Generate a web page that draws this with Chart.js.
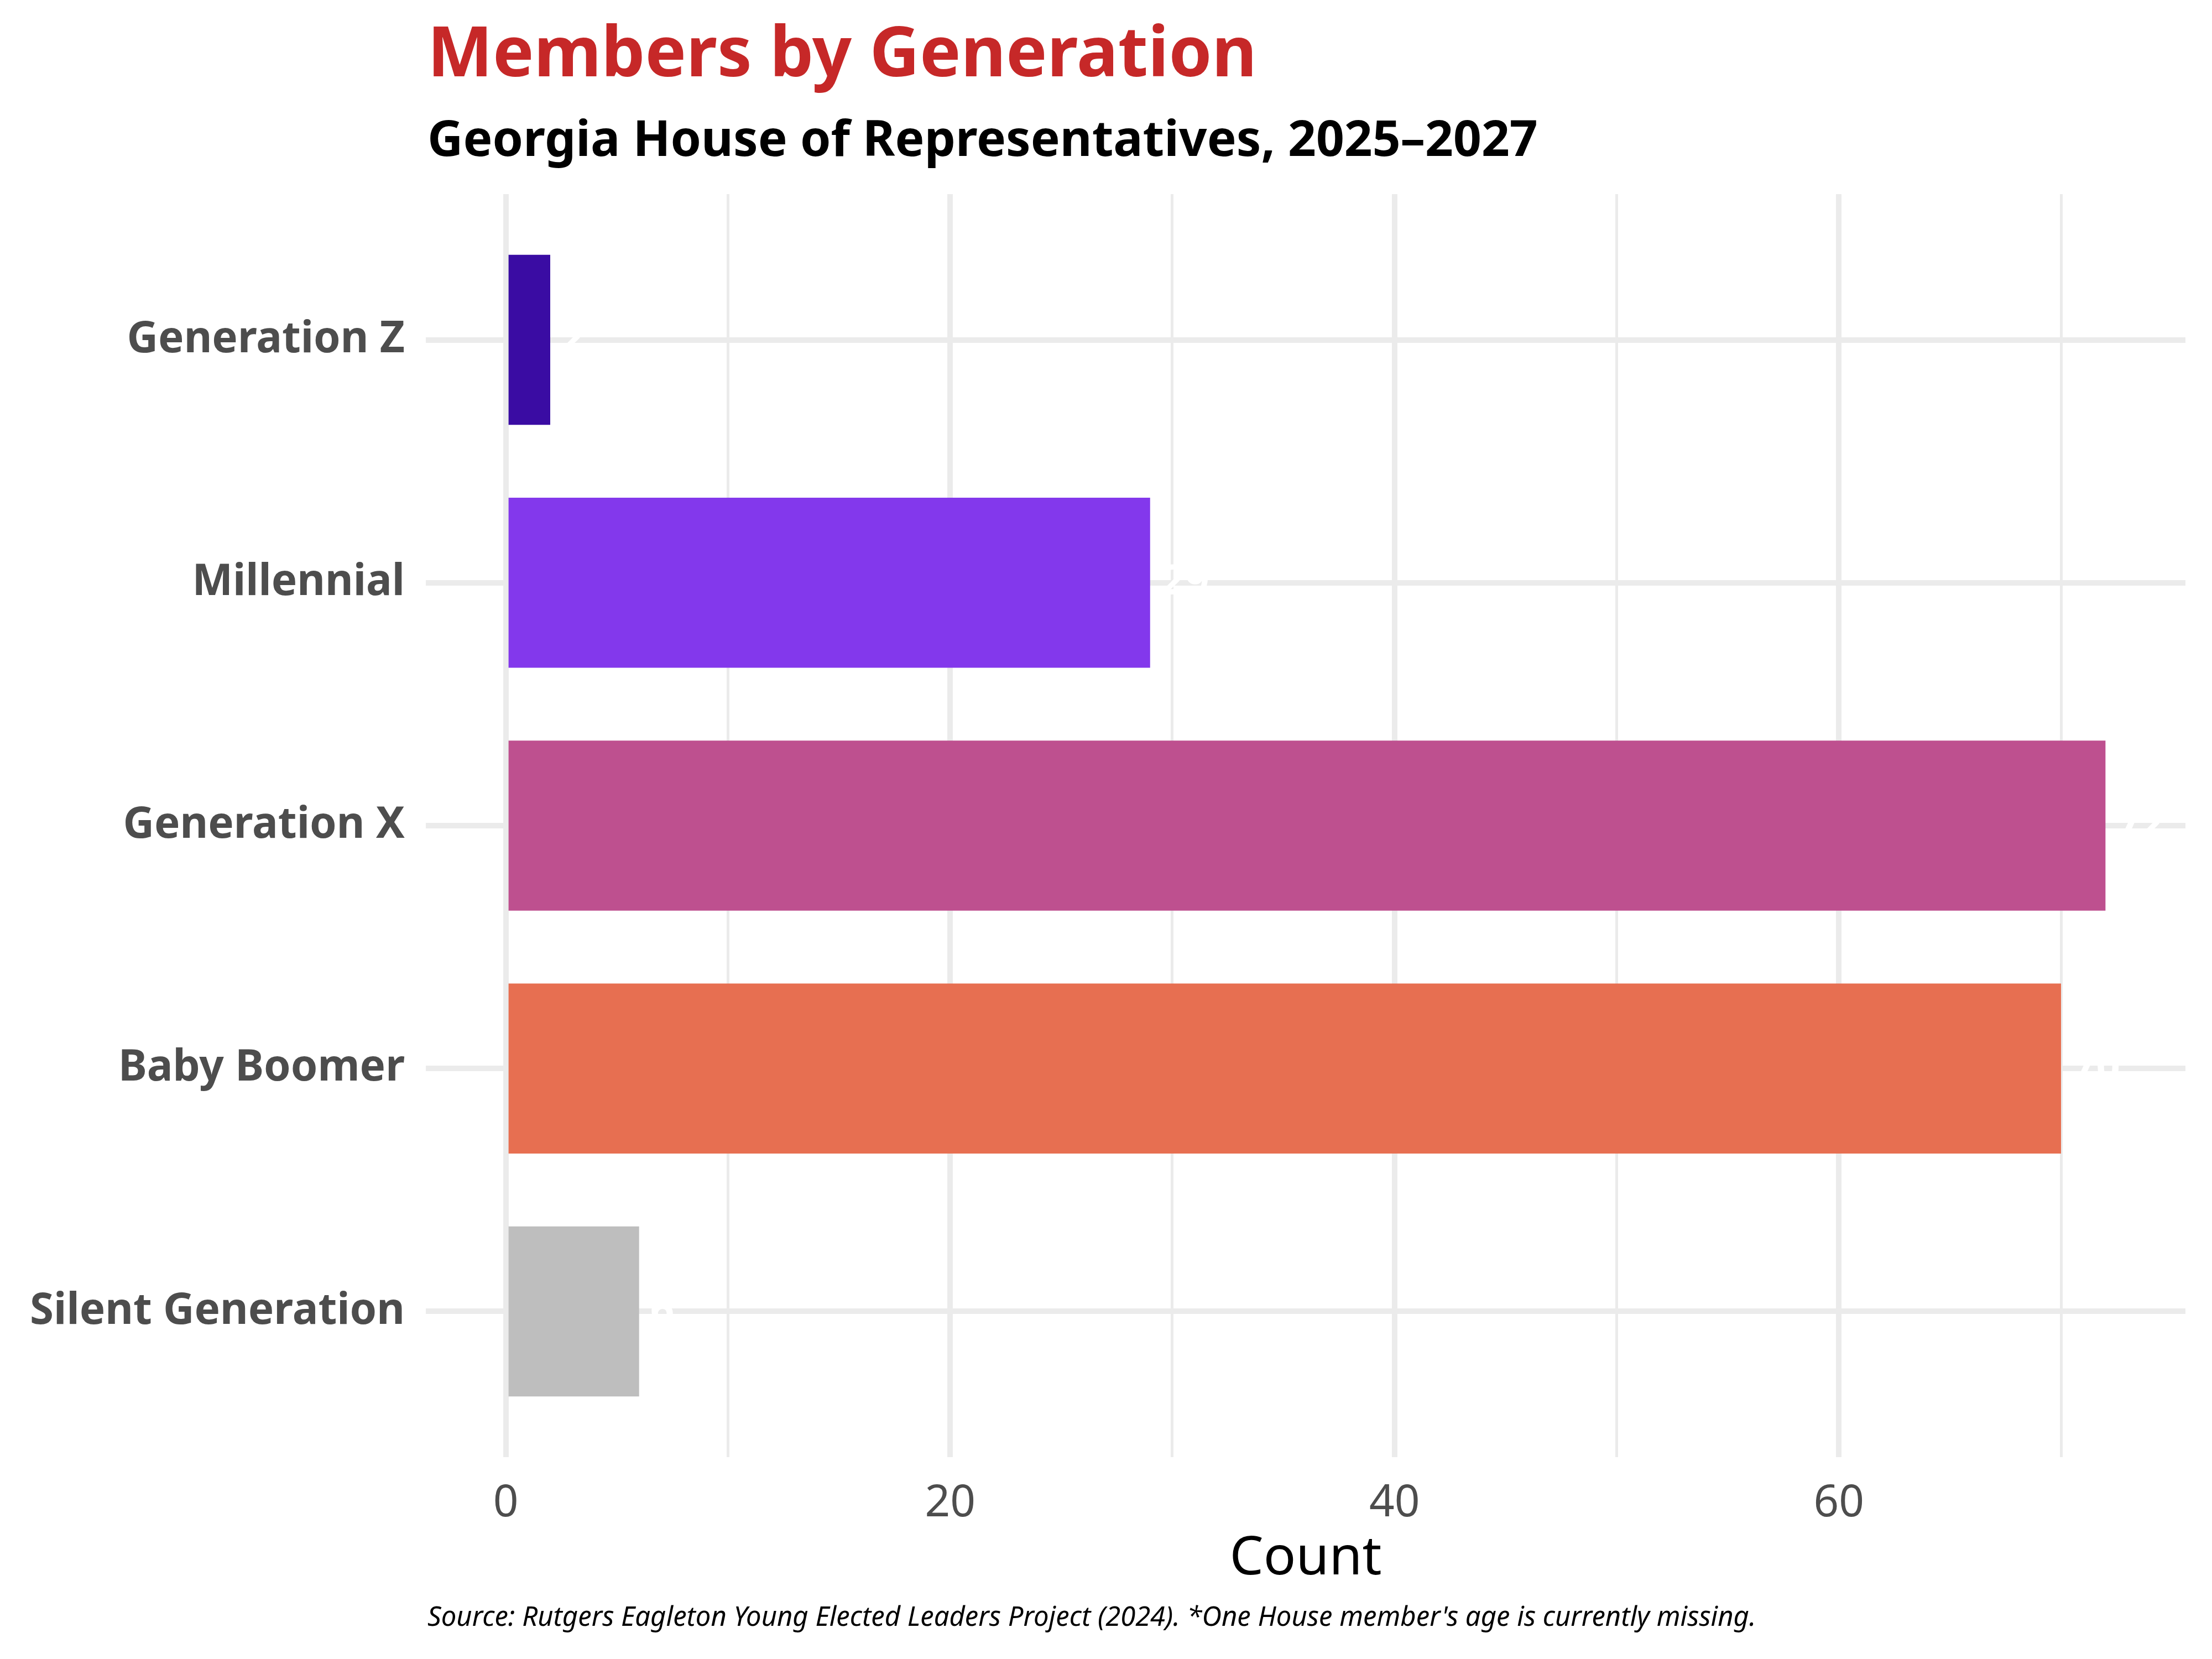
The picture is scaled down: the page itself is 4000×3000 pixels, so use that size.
<!DOCTYPE html>
<html>
<head>
<meta charset="utf-8">
<script src="https://cdn.jsdelivr.net/npm/chart.js@4.4.1/dist/chart.umd.min.js"></script>
<style>
  html, body { margin: 0; padding: 0; background: #fff; }
  #chart { display: block; }
</style>
</head>
<body>
<canvas id="chart" width="4000" height="3000" style="width:4000px;height:3000px"></canvas>
<script>
// values
const generations = ["Generation Z", "Millennial", "Generation X", "Baby Boomer", "Silent Generation"];
const memberCounts = [2, 29, 72, 70, 6];
const barColors = ["#3A0CA3", "#8338EC", "#BE508F", "#E76F51", "#BEBEBE"];
const majorTicks = [0, 20, 40, 60];
const minorTicks = [10, 30, 50, 70];

const FONT = "'Noto Sans', 'DejaVu Sans', sans-serif";
const GRID = "#ebebeb";

// titles, caption and the (white) count labels
const textPlugin = {
  id: "texts",
  afterDatasetsDraw(chart) {
    const ctx = chart.ctx;
    const meta = chart.getDatasetMeta(0);
    ctx.save();
    ctx.fillStyle = "#ffffff";
    ctx.font = "bold 76px " + FONT;
    ctx.textAlign = "left";
    ctx.textBaseline = "middle";
    meta.data.forEach((bar, i) => {
      ctx.fillText(String(memberCounts[i]), bar.x + 20, bar.y);
    });
    ctx.restore();
  },
  afterDraw(chart) {
    const ctx = chart.ctx;
    const left = chart.chartArea.left + 3;
    ctx.save();
    ctx.textAlign = "left";
    ctx.textBaseline = "alphabetic";

    ctx.fillStyle = "#C62828";
    ctx.font = "bold 125px " + FONT;
    ctx.fillText("Members by Generation", left, 138);

    ctx.fillStyle = "#000000";
    ctx.font = "bold 89px " + FONT;
    ctx.fillText("Georgia House of Representatives, 2025\u20132027", left, 282);

    ctx.font = "italic 49px " + FONT;
    ctx.fillText("Source: Rutgers Eagleton Young Elected Leaders Project (2024). *One House member's age is currently missing.", left, 2940);
    ctx.restore();
  }
};

new Chart(document.getElementById("chart"), {
  type: "bar",
  data: {
    labels: generations,
    datasets: [{
      data: generations.map((g, i) => ({ x: memberCounts[i], y: i })),
      backgroundColor: barColors,
      borderWidth: 0,
      barPercentage: 0.7,
      categoryPercentage: 1
    }]
  },
  options: {
    indexAxis: "y",
    responsive: false,
    devicePixelRatio: 1,
    animation: false,
    layout: { padding: { top: 351, right: 48, left: 0, bottom: 0 } },
    plugins: {
      legend: { display: false },
      tooltip: { enabled: false },
      title: { display: false }
    },
    scales: {
      x: {
        type: "linear",
        min: -3.6,
        max: 75.6,
        afterBuildTicks: s => {
          s.ticks = majorTicks.concat(minorTicks).sort((a, b) => a - b).map(v => ({ value: v }));
        },
        afterFit: s => { s.height = 365; },
        grid: {
          color: GRID,
          lineWidth: c => (majorTicks.includes(c.tick.value) ? 10 : 5),
          drawTicks: false
        },
        border: { display: false },
        ticks: {
          autoSkip: false,
          maxRotation: 0,
          padding: 36,
          color: "#4d4d4d",
          font: { family: FONT, size: 80 },
          callback: v => (majorTicks.includes(v) ? String(v) : "")
        },
        title: {
          display: true,
          text: "Count",
          color: "#000000",
          font: { family: FONT, size: 97 },
          padding: { top: 0, bottom: 122 }
        }
      },
      y: {
        type: "linear",
        min: -0.6,
        max: 4.6,
        reverse: true,
        offset: false,
        afterBuildTicks: s => {
          s.ticks = generations.map((g, i) => ({ value: i }));
        },
        afterFit: s => { s.width = 770; },
        grid: { color: GRID, lineWidth: 10, drawTicks: false, offset: false },
        border: { display: false },
        ticks: {
          autoSkip: false,
          padding: 38,
          color: "#4d4d4d",
          font: { family: FONT, size: 78, weight: "bold" },
          callback: v => generations[v] || ""
        }
      }
    }
  },
  plugins: [textPlugin]
});
</script>
</body>
</html>
